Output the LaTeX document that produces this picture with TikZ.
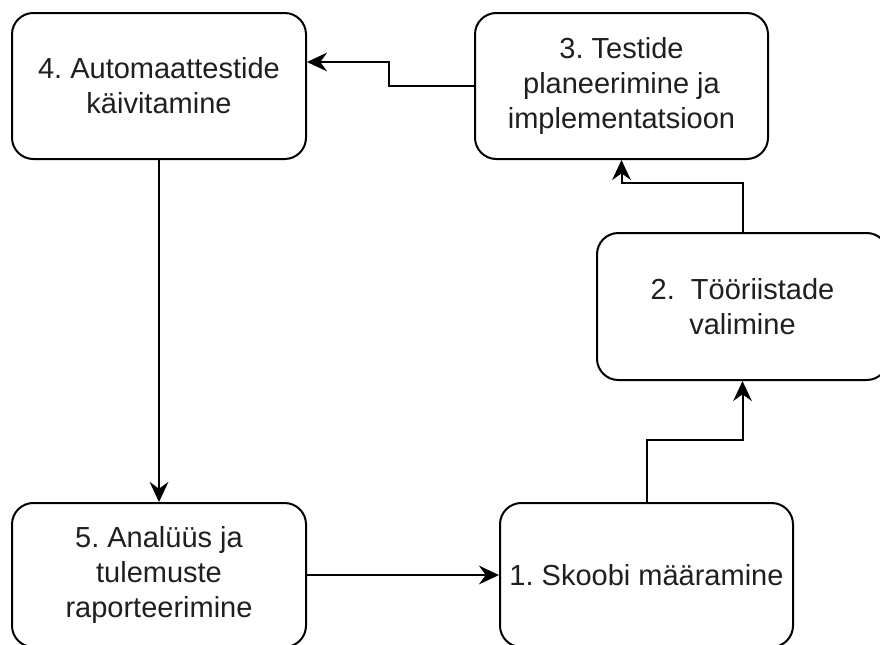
\documentclass[tikz,border=0pt]{standalone}
\usepackage{fontspec}
\setmainfont{Liberation Sans}
\usetikzlibrary{arrows.meta}
\frenchspacing
\begin{document}
\begin{tikzpicture}[x=0.75pt,y=-0.75pt,
  stepbox/.style={draw=black, line width=1.5pt, rounded corners=16pt, fill=white,
    align=center, inner sep=0pt, text=black!88,
    font=\fontsize{21.75pt}{26.1pt}\selectfont},
  arr/.style={draw=black, line width=1.5pt,
    -{Stealth[length=15pt,width=14pt,inset=5pt]}}]
\useasboundingbox (0,0) rectangle (880,644);
\clip (0,0) rectangle (880,644);
\fill[white] (0,0) rectangle (880,644);

% process steps
\node[stepbox, minimum width=294*0.75pt, minimum height=146*0.75pt] (b4) at (159,86)
  {4. Automaattestide\\käivitamine};
\node[stepbox, minimum width=293*0.75pt, minimum height=146*0.75pt] (b3) at (621.5,86)
  {3. Testide\\planeerimine ja\\implementatsioon};
\node[stepbox, minimum width=291*0.75pt, minimum height=147*0.75pt] (b2) at (742.5,306.5)
  {2.\ \ Tööriistade\\valimine};
\node[stepbox, minimum width=293*0.75pt, minimum height=144*0.75pt] (b1) at (646.5,575)
  {1. Skoobi määramine};
\node[stepbox, minimum width=294*0.75pt, minimum height=144*0.75pt] (b5) at (159,575)
  {5. Analüüs ja\\tulemuste\\raporteerimine};

% connectors
\draw[arr] (b5.east) -- (b1.west);
\draw[arr] (b1.north) -- ++(0,-62) -| (b2.south);
\draw[arr] (b2.north) -- ++(0,-49) -| (b3.south);
\draw[arr] (b3.west) -- ++(-85,0) |- ([yshift=18pt]b4.east);
\draw[arr] (b4.south) -- (b5.north);
\end{tikzpicture}
\end{document}
